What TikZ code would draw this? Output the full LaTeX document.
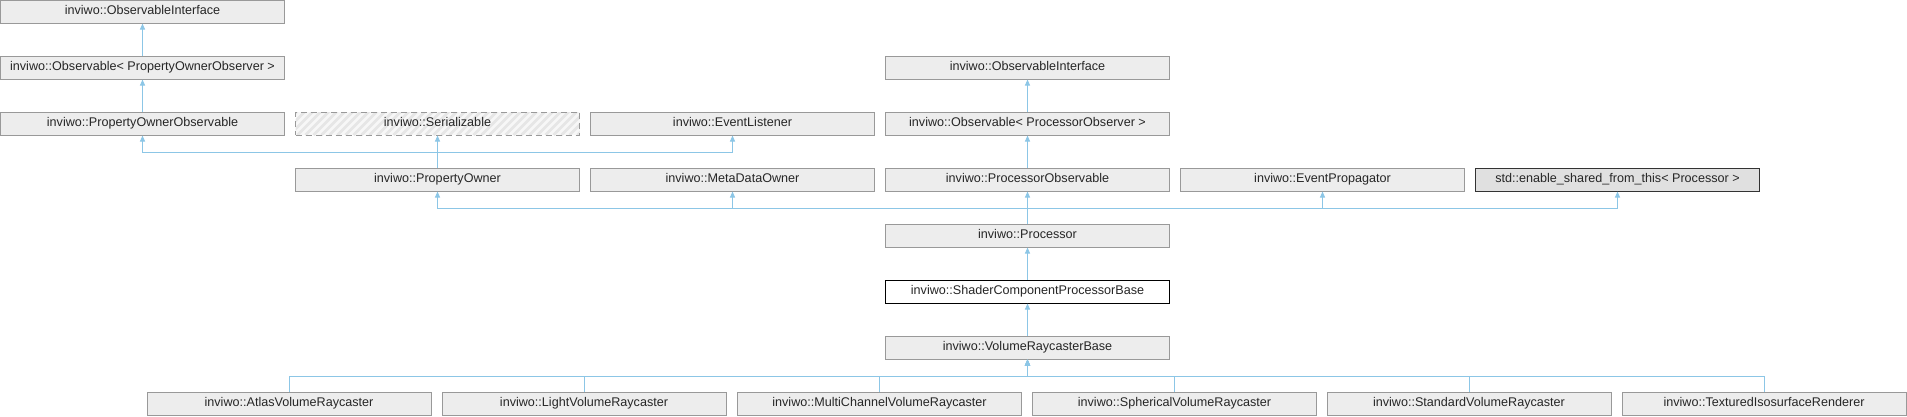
\documentclass[tikz,border=0pt]{standalone}
\usepackage{fontspec}
\setmainfont{Liberation Sans}
\usetikzlibrary{arrows.meta}
\definecolor{edgeblue}{HTML}{8CC6E6}
\definecolor{boxfill}{HTML}{EDEDED}
\definecolor{boxline}{HTML}{999999}
\definecolor{extfill}{HTML}{E0E0E0}
\definecolor{hatchbg}{HTML}{F7F7F7}
\definecolor{hatchfg}{HTML}{E6E6E6}
\tikzset{
  cls/.style={draw=boxline, fill=boxfill, line width=1pt, minimum width=284pt, minimum height=23pt, inner sep=0pt, text height=9pt, text depth=2.2pt, font=\fontsize{12.6}{14}\selectfont, text=black!85},
  extcls/.style={cls, draw=black!80, fill=extfill},
  curcls/.style={cls, draw=black, fill=white},
  hatchcls/.style={cls, dashed, dash pattern=on 6pt off 4pt, fill=hatchbg,
    path picture={\foreach \k in {0,...,40} \draw[hatchfg, line width=2.5pt, solid] ([xshift=\k*8pt-30pt]path picture bounding box.south west) -- ++(30pt,30pt);}},
  edge/.style={draw=edgeblue, line width=1pt, -{Triangle[width=5pt,length=6pt]}}
}
\begin{document}
\begin{tikzpicture}[x=1pt,y=-1pt]
\useasboundingbox (0,0) rectangle (1907,416);
% column 0 / 1 / 2 upper part
\node[cls] (oi1) at (142.5,11.5) {inviwo::ObservableInterface};
\node[cls] (obpo) at (142.5,67.5) {inviwo::Observable< PropertyOwnerObserver >};
\node[cls] (poo) at (142.5,123.5) {inviwo::PropertyOwnerObservable};
\node[hatchcls] (ser) at (437.5,123.5) {inviwo::Serializable};
\node[cls] (el) at (732.5,123.5) {inviwo::EventListener};
% column 3 upper part
\node[cls] (oi2) at (1027.5,67.5) {inviwo::ObservableInterface};
\node[cls] (obpr) at (1027.5,123.5) {inviwo::Observable< ProcessorObserver >};
% row 3
\node[cls] (po) at (437.5,179.5) {inviwo::PropertyOwner};
\node[cls] (mdo) at (732.5,179.5) {inviwo::MetaDataOwner};
\node[cls] (pob) at (1027.5,179.5) {inviwo::ProcessorObservable};
\node[cls] (ep) at (1322.5,179.5) {inviwo::EventPropagator};
\node[extcls] (esf) at (1617.5,179.5) {std::enable\_shared\_from\_this< Processor >};
% chain
\node[cls] (proc) at (1027.5,235.5) {inviwo::Processor};
\node[curcls] (scpb) at (1027.5,291.5) {inviwo::ShaderComponentProcessorBase};
\node[cls] (vrb) at (1027.5,347.5) {inviwo::VolumeRaycasterBase};
% bottom row
\node[cls] (avr) at (289,403.5) {inviwo::AtlasVolumeRaycaster};
\node[cls] (lvr) at (584,403.5) {inviwo::LightVolumeRaycaster};
\node[cls] (mcvr) at (879.5,403.5) {inviwo::MultiChannelVolumeRaycaster};
\node[cls] (svr) at (1174.5,403.5) {inviwo::SphericalVolumeRaycaster};
\node[cls] (stvr) at (1469,403.5) {inviwo::StandardVolumeRaycaster};
\node[cls] (tir) at (1764,403.5) {inviwo::TexturedIsosurfaceRenderer};
% junction levels
\coordinate (j1) at (0,152);
\coordinate (j2) at (0,208);
\coordinate (j3) at (0,376);
% edges
\draw[edge] (obpo) -- (oi1);
\draw[edge] (poo) -- (obpo);
\draw[edge] (po.north) -- (po.north |- j1) -| (poo.south);
\draw[edge] (po.north) -- (ser.south);
\draw[edge] (po.north) -- (po.north |- j1) -| (el.south);
\draw[edge] (obpr) -- (oi2);
\draw[edge] (pob) -- (obpr);
\draw[edge] (proc.north) -- (proc.north |- j2) -| (po.south);
\draw[edge] (proc.north) -- (proc.north |- j2) -| (mdo.south);
\draw[edge] (proc.north) -- (pob.south);
\draw[edge] (proc.north) -- (proc.north |- j2) -| (ep.south);
\draw[edge] (proc.north) -- (proc.north |- j2) -| (esf.south);
\draw[edge] (scpb) -- (proc);
\draw[edge] (vrb) -- (scpb);
\draw[edge] (avr.north) -- (avr.north |- j3) -| (vrb.south);
\draw[edge] (lvr.north) -- (lvr.north |- j3) -| (vrb.south);
\draw[edge] (mcvr.north) -- (mcvr.north |- j3) -| (vrb.south);
\draw[edge] (svr.north) -- (svr.north |- j3) -| (vrb.south);
\draw[edge] (stvr.north) -- (stvr.north |- j3) -| (vrb.south);
\draw[edge] (tir.north) -- (tir.north |- j3) -| (vrb.south);
\end{tikzpicture}
\end{document}
